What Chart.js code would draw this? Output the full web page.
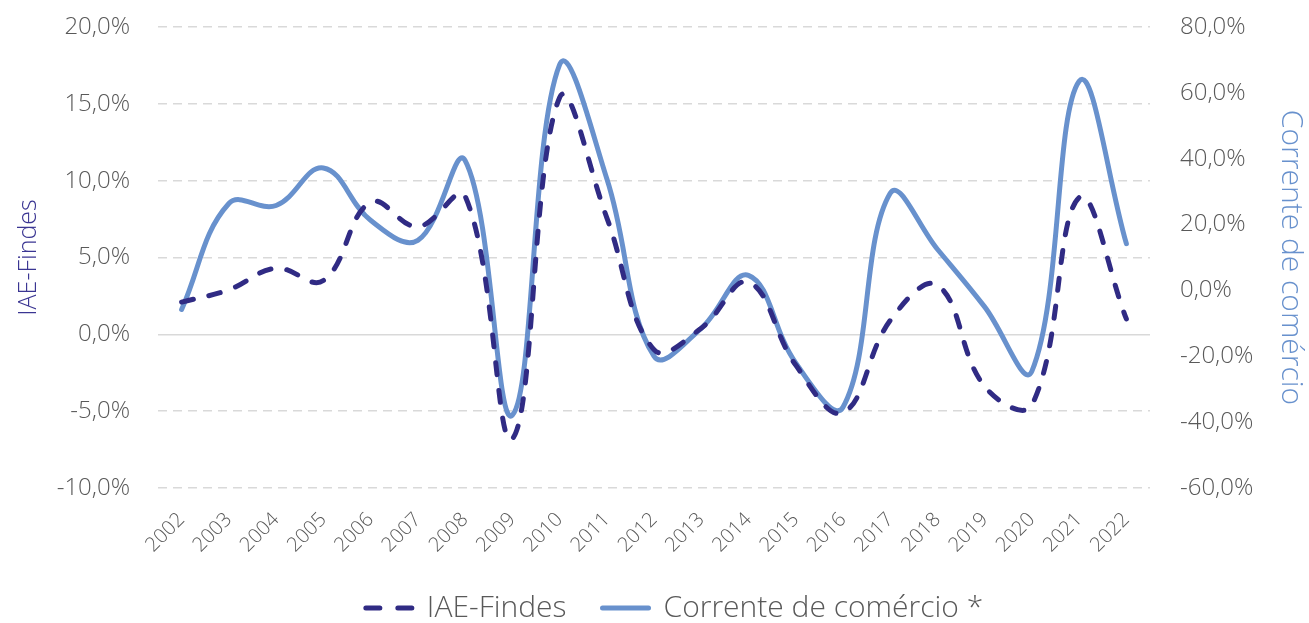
<!DOCTYPE html>
<html lang="pt">
<head>
<meta charset="UTF-8">
<title>IAE-Findes x Corrente de comércio</title>
<script src="https://cdn.jsdelivr.net/npm/chart.js"></script>
<style>
  body { margin: 0; background: #fff; }
  #wrap { width: 1309px; height: 623px; }
</style>
</head>
<body>
<div id="wrap"><canvas id="chart" width="1309" height="623"></canvas></div>
<script>
// anos
const years = ['2002','2003','2004','2005','2006','2007','2008','2009','2010','2011',
               '2012','2013','2014','2015','2016','2017','2018','2019','2020','2021','2022'];

// IAE-Findes (% a.a., eixo esquerdo)
const iaeFindes = [2.1, 2.9, 4.3, 3.5, 8.6, 7.0, 9.0, -6.8, 15.4, 7.6,
                   -1.0, 0.4, 3.4, -2.0, -5.1, 0.9, 3.2, -3.4, -4.6, 8.9, 1.0];

// Corrente de comércio (% a.a., eixo direito)
const correnteComercio = [-5.8, 26.4, 25.8, 37.2, 21.3, 15.2, 39.5, -37.9, 68.5, 34.0,
                          -20.0, -11.5, 4.6, -22.0, -35.5, 29.5, 12.5, -5.0, -24.5, 63.5, 14.2];

// limites dos eixos
const leftTicks = { min: -10, max: 20, step: 5 };
const rightTicks = { min: -60, max: 80, step: 20 };

const FONT = "'Open Sans', 'Noto Sans', sans-serif";
const GREY = '#595959';
const NAVY = '#302B84';
const BLUE = '#6891CD';
const PAD_LEFT = 40; // desloca a legenda como no original

const pct = v => v.toFixed(1).replace('.', ',') + '%';

// eixo vertical: largura fixa, sem reserva extra em cima/embaixo
const fixAxis = w => s => { s.width = w; s.paddingTop = 0; s.paddingBottom = 0; };

new Chart(document.getElementById('chart'), {
  type: 'line',
  data: {
    labels: years,
    datasets: [
      {
        label: 'IAE-Findes',
        data: iaeFindes,
        yAxisID: 'y',
        borderColor: NAVY,
        backgroundColor: NAVY,
        borderWidth: 5,
        borderDash: [12, 16],
        borderCapStyle: 'round',
        pointRadius: 0,
        tension: 0.4,
        fill: false
      },
      {
        label: 'Corrente de comércio *',
        data: correnteComercio,
        yAxisID: 'y1',
        borderColor: BLUE,
        backgroundColor: BLUE,
        borderWidth: 5,
        borderCapStyle: 'round',
        pointRadius: 0,
        tension: 0.4,
        fill: false
      }
    ]
  },
  options: {
    responsive: false,
    animation: false,
    layout: { padding: { top: 27, bottom: -10, left: PAD_LEFT, right: 0 } },
    plugins: {
      tooltip: { enabled: false },
      legend: {
        position: 'bottom',
        labels: {
          font: { family: FONT, size: 30, weight: 300 },
          color: GREY,
          usePointStyle: true,
          pointStyleWidth: 46,
          boxHeight: 30,
          padding: 36,
          generateLabels: chart => Chart.defaults.plugins.legend.labels.generateLabels(chart).map(item => {
            const ds = chart.data.datasets[item.datasetIndex];
            item.pointStyle = 'line';
            item.lineDash = ds.borderDash ? [14, 18] : [];
            item.lineCap = 'round';
            item.lineWidth = ds.borderWidth;
            item.strokeStyle = ds.borderColor;
            return item;
          })
        }
      }
    },
    scales: {
      x: {
        offset: true,
        grid: { display: false },
        border: { display: false },
        ticks: {
          color: GREY,
          font: { family: FONT, size: 20, weight: 300 },
          minRotation: 45,
          maxRotation: 45,
          padding: 12
        },
        afterFit: s => { s.height = 69; }
      },
      y: {
        position: 'left',
        min: leftTicks.min,
        max: leftTicks.max,
        ticks: {
          stepSize: leftTicks.step,
          color: GREY,
          font: { family: FONT, size: 24, weight: 300 },
          padding: 28,
          callback: v => pct(v)
        },
        grid: {
          color: '#d9d9d9',
          lineWidth: 1.5,
          drawTicks: false
        },
        border: {
          display: false,
          dash: ctx => (ctx.tick && ctx.tick.value === 0) ? [] : [9, 6]
        },
        title: {
          display: true,
          text: 'IAE-Findes',
          color: '#3A3592',
          font: { family: FONT, size: 25, weight: 300 },
          padding: { top: 28 - PAD_LEFT - 14, bottom: 0 }
        },
        afterFit: fixAxis(158 - PAD_LEFT)
      },
      y1: {
        position: 'right',
        min: rightTicks.min,
        max: rightTicks.max,
        ticks: {
          stepSize: rightTicks.step,
          color: GREY,
          font: { family: FONT, size: 24, weight: 300 },
          padding: 30,
          callback: v => pct(v)
        },
        grid: { display: false, drawTicks: false },
        border: { display: false },
        title: {
          display: true,
          text: 'Corrente de comércio',
          color: BLUE,
          font: { family: FONT, size: 30, weight: 300 },
          padding: 0
        },
        afterFit: fixAxis(159)
      }
    }
  }
});
</script>
</body>
</html>
